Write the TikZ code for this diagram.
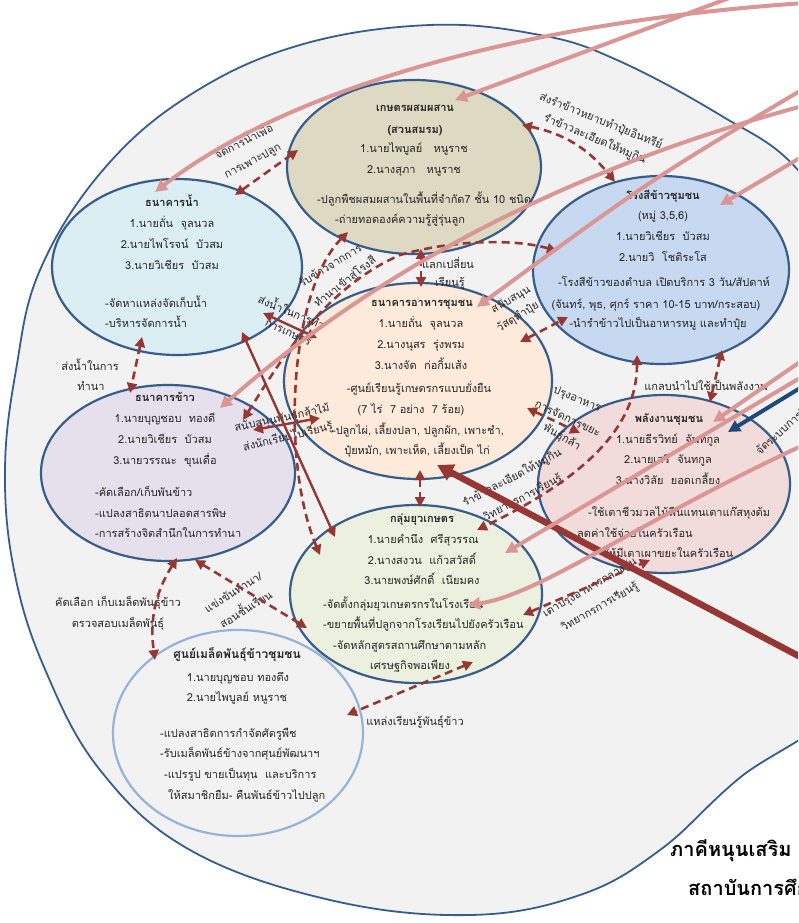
\documentclass[tikz,border=0pt]{standalone}
\usepackage{fontspec}
\newfontfamily\thaifont[Script=Thai]{Loma}
\usetikzlibrary{shapes.geometric,arrows.meta,calc}
\newcommand\ftn{\thaifont\fontsize{11}{13}\selectfont}
\newcommand\ftb{\thaifont\bfseries\fontsize{11}{13}\selectfont}
\newcommand\ftbb{\thaifont\bfseries\fontsize{12}{14}\selectfont}
\newcommand\ftbig{\thaifont\bfseries\fontsize{20}{24}\selectfont}
\definecolor{outerfill}{HTML}{F2F2F2}
\definecolor{bord}{HTML}{385D8A}
\definecolor{drk}{HTML}{953735}
\definecolor{pnk}{HTML}{D99694}
\definecolor{blu}{HTML}{1F497D}
\definecolor{c1}{HTML}{DDD9C3}
\definecolor{c2}{HTML}{DAEEF3}
\definecolor{c3}{HTML}{C6D9F1}
\definecolor{c4}{HTML}{FDEADA}
\definecolor{c5}{HTML}{E5E0EC}
\definecolor{c6}{HTML}{F2DCDB}
\definecolor{c7}{HTML}{EBF1DE}
\definecolor{b8}{HTML}{95B3D7}
\definecolor{txtc}{HTML}{262626}
\tikzset{
  dtip/.tip={Triangle[length=10pt,width=10pt]},
  ptip/.tip={Triangle[length=12pt,width=12pt]},
  btip/.tip={Triangle[length=16pt,width=17pt]},
  blob/.style={ellipse, draw=bord, line width=2.2pt, inner sep=0pt},
  tx/.style={inner sep=0pt, text=txtc, font=\ftn},
  tbx/.style={inner sep=0pt, text=txtc, font=\ftb},
  dsh/.style={draw=drk, line width=2.6pt, dash pattern=on 8pt off 5pt, dtip-dtip},
  sol/.style={draw=drk, line width=2.4pt, dtip-dtip},
  pk/.style={draw=pnk, line width=4pt, -ptip},
  bl/.style={draw=blu, line width=4pt, -ptip},
  thick red/.style={draw=drk, line width=6.5pt, -btip}
}
\begin{document}
\begin{tikzpicture}[x=1pt,y=-1pt]
\useasboundingbox (0,0) rectangle (798,923);
\clip (0,0) rectangle (798,923);
\fill[white] (0,0) rectangle (798,923);
% outer region
\draw[draw=bord, line width=1.8pt, fill=outerfill] plot[smooth cycle, tension=0.65] coordinates {
 (5,470) (16,370) (40,270) (103,170) (190,95) (300,45) (430,25) (540,35) (617,60) (720,115) (798,170)
 (870,280) (900,480) (860,680) (737,780) (660,850) (580,895) (470,915) (330,900) (190,850) (100,770) (44,667) (14,570)};

% nodes
\node[blob, fill=c1, minimum width=254pt, minimum height=174pt] (n1) at (414,167) {};
\node[blob, fill=c2, minimum width=250pt, minimum height=176pt] (n2) at (177,267) {};
\node[blob, fill=c3, minimum width=256pt, minimum height=188pt] (n3) at (661,270) {};
\node[blob, fill=c4, minimum width=268pt, minimum height=196pt] (n4) at (418,381) {};
\node[blob, fill=c5, minimum width=254pt, minimum height=176pt] (n5) at (168,473) {};
\node[blob, fill=c6, minimum width=252pt, minimum height=178pt] (n6) at (664,484) {};
\node[blob, fill=c7, minimum width=252pt, minimum height=178pt] (n7) at (416,594) {};
\node[blob, draw=b8, fill=outerfill, minimum width=250pt, minimum height=206pt] (n8) at (238,733) {};

% texts node 1
\node[tbx, anchor=base] (t1a) at (415,112) {เกษตรผสมผสาน};
\node[tbx, anchor=base] (t1b) at (415,133) {(สวนสมรม)};
\node[tx, anchor=base] (t1c) at (414,153) {1.นายไพบูลย์~~~หนูราช};
\node[tx, anchor=base] (t1d) at (414,173) {2.นางสุภา~~~หนูราช};
\node[tx, anchor=base west] (t1e) at (317,203) {-ปลูกพืชผสมผสานในพื้นที่จำกัด7 ชั้น 10 ชนิด};
\node[tx, anchor=base west] (t1f) at (335,223) {-ถ่ายทอดองค์ความรู้สู่รุ่นลูก};
% node 2
\node[tbx, anchor=base] (t2a) at (172,206) {ธนาคารน้ำ};
\node[tx, anchor=base] (t2b) at (172,227) {1.นายถั่น~~จุลนวล};
\node[tx, anchor=base] (t2c) at (172,248) {2.นายไพโรจน์~~บัวสม};
\node[tx, anchor=base] (t2d) at (172,269) {3.นายวิเชียร~~บัวสม};
\node[tx, anchor=base west] (t2e) at (105,307) {-จัดหาแหล่งจัดเก็บน้ำ};
\node[tx, anchor=base west] (t2f) at (105,327) {-บริหารจัดการน้ำ};
% node 3
\node[tbx, anchor=base] (t3a) at (663,199) {โรงสีข้าวชุมชน};
\node[tx, anchor=base] (t3b) at (663,219) {(หมู่ 3,5,6)};
\node[tx, anchor=base] (t3c) at (663,240) {1.นายวิเชียร~~บัวสม};
\node[tx, anchor=base] (t3d) at (663,261) {2.นายวิ~~โชติระโส};
\node[tx, anchor=base] (t3e) at (664,286) {-โรงสีข้าวของตำบล เปิดบริการ 3 วัน/สัปดาห์};
\node[tx, anchor=base] (t3f) at (656,308) {(จันทร์, พุธ, ศุกร์ ราคา 10-15 บาท/กระสอบ)};
\node[tx, anchor=base] (t3g) at (658,327) {-นำรำข้าวไปเป็นอาหารหมู และทำปุ๋ย};
% node 4
\node[tbx, anchor=base] (t4a) at (422,306) {ธนาคารอาหารชุมชน};
\node[tx, anchor=base] (t4b) at (421,327) {1.นายถั่น~~จุลนวล};
\node[tx, anchor=base] (t4c) at (421,348) {2.นางนุสร~~รุ่งพรม};
\node[tx, anchor=base] (t4d) at (421,369) {3.นางจัด~~ก่อกิ้มเส้ง};
\node[tx, anchor=base] (t4e) at (419,392) {-ศูนย์เรียนรู้เกษตรกรแบบยั่งยืน};
\node[tx, anchor=base] (t4f) at (411,413) {(7 ไร่~~7 อย่าง~~7 ร้อย)};
\node[tx, anchor=base] (t4g) at (418,434) {-ปลูกไผ่, เลี้ยงปลา, ปลูกผัก, เพาะชำ,};
\node[tx, anchor=base] (t4h) at (417,454) {ปุ๋ยหมัก, เพาะเห็ด, เลี้ยงเป็ด ไก่};
% node 5
\node[tbx, anchor=base] (t5a) at (165,401) {ธนาคารข้าว};
\node[tx, anchor=base] (t5b) at (165,422) {1.นายบุญชอบ~~ทองดี};
\node[tx, anchor=base] (t5c) at (165,443) {2.นายวิเชียร~~บัวสม};
\node[tx, anchor=base] (t5d) at (165,464) {3.นายวรรณะ~~ขุนเดื่อ};
\node[tx, anchor=base west] (t5e) at (95,496) {-คัดเลือก/เก็บพันข้าว};
\node[tx, anchor=base west] (t5f) at (95,517) {-แปลงสาธิตนาปลอดสารพิษ};
\node[tx, anchor=base west] (t5g) at (95,537) {-การสร้างจิตสำนึกในการทำนา};
% node 6
\node[tbx, anchor=base] (t6a) at (669,422) {พลังงานชุมชน};
\node[tx, anchor=base] (t6b) at (668,443) {1.นายธีรวิทย์~~จันทกูล};
\node[tx, anchor=base] (t6c) at (668,463) {2.นายเสรี~~จันทกูล};
\node[tx, anchor=base] (t6d) at (668,484) {3.นางวิลัย~~ยอดเกลี้ยง};
\node[tx, anchor=base west] (t6e) at (588,516) {-ใช้เตาชีวมวลไม้ฟืนแทนเตาแก๊สหุงต้ม};
\node[tx, anchor=base west] (t6f) at (577,537) {ลดค่าใช้จ่ายในครัวเรือน};
\node[tx, anchor=base west] (t6g) at (600,557) {-ให้มีเตาเผาขยะในครัวเรือน};
% node 7
\node[tbx, anchor=base] (t7a) at (422,522) {กลุ่มยุวเกษตร};
\node[tx, anchor=base] (t7b) at (423,543) {1.นายคำนึง~~ศรีสุวรรณ};
\node[tx, anchor=base] (t7c) at (422,564) {2.นางสงวน~~แก้วสวัสดิ์};
\node[tx, anchor=base] (t7d) at (422,584) {3.นายพงษ์ศักดิ์~~เนียมคง};
\node[tx, anchor=base west] (t7e) at (323,608) {-จัดตั้งกลุ่มยุวเกษตรกรในโรงเรียน};
\node[tx, anchor=base west] (t7f) at (323,628) {-ขยายพื้นที่ปลูกจากโรงเรียนไปยังครัวเรือน};
\node[tx, anchor=base west] (t7g) at (333,649) {-จัดหลักสูตรสถานศึกษาตามหลัก};
\node[tx, anchor=base] (t7h) at (410,669) {เศรษฐกิจพอเพียง};
% node 8
\node[tbx, font=\ftbb, anchor=base] (t8a) at (237,658) {ศูนย์เมล็ดพันธุ์ข้าวชุมชน};
\node[tx, anchor=base] (t8b) at (238,681) {1.นายบุญชอบ ทองดึง};
\node[tx, anchor=base] (t8c) at (237,701) {2.นายไพบูลย์ หนูราช};
\node[tx, anchor=base west] (t8d) at (160,737) {-แปลงสาธิตการกำจัดศัตรูพืช};
\node[tx, anchor=base west] (t8e) at (160,757) {-รับเมล็ดพันธ์ข้างจากศุนย์พัฒนาฯ};
\node[tx, anchor=base west] (t8f) at (164,778) {-แปรรูป ขายเป็นทุน~~และบริการ};
\node[tx, anchor=base west] (t8g) at (168,799) {ให้สมาชิกยืม- คืนพันธ์ข้าวไปปลูก};

% edge labels
\node[tx, rotate=27] (l1) at (243,140) {จัดการน้ำเพื่อ};
\node[tx, rotate=28] (l2) at (253,162) {การเพาะปลูก};
\node[tx, rotate=-22] (l3) at (601,121) {ส่งรำข้าวหยาบทำปุ๋ยอินทรีย์};
\node[tx, rotate=-23] (l4) at (595,139) {รำข้าวละเอียดให้หมูกิน};
\node[tx] (l5) at (448,263) {แลกเปลี่ยน};
\node[tx] (l6) at (450,283) {เรียนรู้};
\node[tx, rotate=31] (l7) at (330,265) {รับข้าวจากการ};
\node[tx, rotate=38] (l8) at (345,282) {ทำนาเข้าสู่โรงสี};
\node[tx, rotate=-23] (l9) at (292,311) {ส่งน้ำในการทำ};
\node[tx, rotate=-25] (l10) at (288,333) {การเกษตร};
\node[tx, rotate=29] (l11) at (511,300) {สนับสนุน};
\node[tx, rotate=32] (l12) at (518,317) {วัสดุทำปุ๋ย};
\node[tx] (l13) at (706,385) {แกลบนำไปใช้เป็นพลังงาน};
\node[tx, rotate=42, anchor=west] (l14) at (757,452) {จัดระบบการวิ};
\node[tx, rotate=-22] (l15) at (577,400) {ปรุงอาหาร};
\node[tx, rotate=-25] (l16) at (568,418) {การจัดการขยะ};
\node[tx, rotate=-30] (l17) at (562,437) {พันธุ์กล้า};
\node[tx, rotate=28] (l18) at (512,478) {รำข้าวละเอียดให้หมูกิน};
\node[tx, rotate=28] (l19) at (523,498) {วิทยากรการเรียนรู้};
\node[tx, rotate=30] (l20) at (590,588) {เตาปรุงอาหารกลางวัน};
\node[tx, rotate=30] (l21) at (600,607) {วิทยากรการเรียนรู้};
\node[tx] (l22) at (90,365) {ส่งน้ำในการ};
\node[tx] (l23) at (91,386) {ทำนา};
\node[tx, rotate=12] (l24) at (282,418) {สนับสนุนพันธุ์กล้าไม้};
\node[tx, rotate=14] (l25) at (288,437) {ส่งนักเรียนไปเรียนรู้};
\node[tx] (l26) at (118,603) {คัดเลือก เก็บเมล็ดพันธุ์ข้าว};
\node[tx] (l27) at (118,624) {ตรวจสอบเมล็ดพันธุ์};
\node[tx, rotate=32] (l28) at (233,592) {แข่งขันทำนา/};
\node[tx, rotate=32] (l29) at (245,608) {สอนชั้นเรียน};
\node[tx] (l30) at (415,722) {แหล่งเรียนรู้พันธุ์ข้าว};
\node[inner sep=0pt, font=\ftbig, text=black, anchor=base west] (ttl1) at (670,856) {ภาคีหนุนเสริม};
\node[inner sep=0pt, font=\ftbig, text=black, anchor=base west] (ttl2) at (688,895) {สถาบันการศึกษา};

% dashed connectors
\draw[dsh] ($(n2)+(58,-72)$) -- ($(n1)+(-116,-17)$);
\draw[dsh] ($(n1)+(108,-42)$) to[bend left=20] ($(n3)+(-46,-88)$);
\draw[dsh] ($(n1)+(7,82)$) -- ($(n4)+(3,-94)$);
\draw[dsh] ($(n1)+(-66,65)$) .. controls (290,290) and (280,460) .. ($(n7)+(-96,-39)$);
\draw[dsh] ($(n5)+(75,-53)$) .. controls (275,370) and (320,290) .. (400,255) .. controls (460,238) and (520,240) .. ($(n3)+(-104,-19)$);
\draw[dsh] ($(n4)+(102,-39)$) -- ($(n3)+(-93,47)$);
\draw[dsh] ($(n3)+(61,80)$) -- ($(n6)+(46,-82)$);
\draw[dsh] ($(n4)+(109,27)$) -- ($(n6)+(-84,-51)$);
\draw[dsh] ($(n3)+(-24,85)$) .. controls (637,430) and (580,480) .. ($(n7)+(61,-64)$);
\draw[dsh] ($(n7)+(107,21)$) -- ($(n6)+(-14,76)$);
\draw[dsh] ($(n7)+(57,68)$) -- ($(n8)+(109,-18)$);
\draw[dsh] ($(n5)+(9,85)$) to[bend right=20] ($(n8)+(-83,-73)$);
\draw[dsh] ($(n5)+(27,87)$) -- ($(n7)+(-109,34)$);
\draw[dsh] ($(n2)+(-35,70)$) -- ($(n5)+(-38,-80)$);
\draw[dsh] ($(n4)+(2,89)$) -- ($(n7)+(4,-87)$);
% solid dark red
\draw[sol] ($(n2)+(65,65)$) -- ($(n7)+(-81,-57)$);
\draw[sol] ($(n2)+(86,46)$) -- ($(n4)+(-101,-43)$);
\draw[sol] ($(n5)+(85,-43)$) -- ($(n4)+(-98,37)$);
\coordinate (srcT) at (810,662);
\draw[thick red] (srcT) -- ($(n4)+(19,84)$);
% pink arrows from outside
\coordinate (s1) at (805,3);
\coordinate (s2) at (810,-32);
\coordinate (s3) at (810,152);
\coordinate (s4) at (810,85);
\coordinate (s5) at (810,104);
\coordinate (s6) at (810,355);
\coordinate (s7) at (810,372);
\coordinate (s8) at (810,442);
\coordinate (s9) at (810,382);
\draw[pk] (s1) .. controls (550,20) and (300,80) .. ($(n2)+(-22,-75)$);
\draw[pk] (s2) -- ($(n1)+(41,-67)$);
\draw[pk] (s3) -- ($(n3)+(59,-65)$);
\draw[pk] (s4) .. controls (650,180) .. ($(n4)+(59,-74)$);
\draw[pk] (s5) .. controls (600,160) and (400,250) .. ($(n5)+(52,-65)$);
\draw[pk] (s6) -- ($(n6)+(49,-62)$);
\draw[pk] (s7) -- ($(n7)+(89,-41)$);
\draw[pk] (s8) .. controls (640,520) and (540,595) .. ($(n7)+(52,11)$);
\draw[bl] (s9) -- ($(n6)+(64,-52)$);
\end{tikzpicture}
\end{document}
